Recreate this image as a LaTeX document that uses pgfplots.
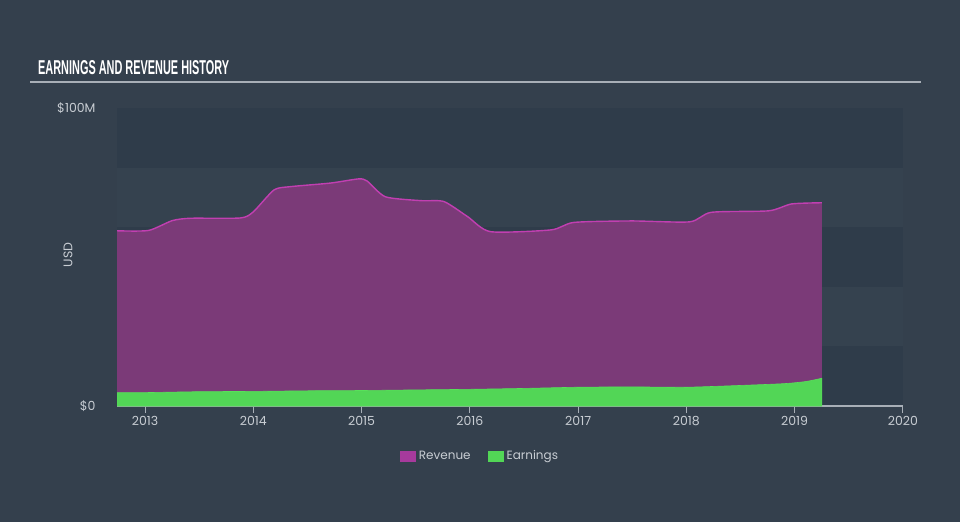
\documentclass[border=0pt]{standalone}
\usepackage{fontspec}
\setmainfont{Poppins}
\newfontfamily\titlefont{Liberation Sans}
\usepackage{graphicx}
\usepackage{pgfplots}
\pgfplotsset{compat=1.18}

\definecolor{bg}{HTML}{34404D}
\definecolor{band}{HTML}{2F3C4A}
\definecolor{lband}{HTML}{35424F}
\definecolor{revfill}{HTML}{7B3A78}
\definecolor{revline}{HTML}{C13FB1}
\definecolor{revleg}{HTML}{A63A9C}
\definecolor{earnfill}{HTML}{52D656}
\definecolor{earnline}{HTML}{58E05A}
\definecolor{txt}{HTML}{C8CDD3}
\definecolor{rulec}{HTML}{A8AFB7}

\newcommand\lbl{\fontsize{12.5}{14}\selectfont}
\newcommand\leg{\fontsize{12}{14}\selectfont}

\begin{document}
\begin{tikzpicture}[x=1pt,y=1pt]
  % canvas
  \fill[bg] (0,0) rectangle (960,522);
  \useasboundingbox (0,0) rectangle (960,522);
  % background bands, 20M each
  \foreach \i in {0,2,4} {\fill[band] (117,{116+\i*59.6}) rectangle (903,{116+(\i+1)*59.6});}
  \foreach \i in {1,3} {\fill[lband] (117,{116+\i*59.6}) rectangle (903,{116+(\i+1)*59.6});}
  % title and rule
  \node[anchor=base west, inner sep=0, text=white] at (38,447)
    {\resizebox{191pt}{14pt}{\titlefont\bfseries EARNINGS AND REVENUE HISTORY}};
  \draw[rulec, line width=1.8pt] (30,440) -- (921,440);
  \node[rotate=90, text=txt, font=\lbl] at (68,267) {USD};

  \begin{axis}[
      at={(117pt,116pt)}, anchor=south west,
      scale only axis, width=786pt, height=298pt,
      xmin=2012.74, xmax=2020, ymin=0, ymax=100,
      axis x line*=bottom, axis y line*=left,
      x axis line style={draw=rulec, line width=1.2pt},
      y axis line style={draw=none},
      xtick={2013,2014,...,2020},
      ytick={0,100}, yticklabels={\$0,\$100M},
      tick align=outside, major tick length=7pt,
      xtick style={draw=rulec, line width=1pt},
      ytick style={draw=none},
      /pgf/number format/1000 sep={},
      /pgf/number format/assume math mode=true,
      xticklabel style={font=\lbl, text=txt},
      yticklabel style={font=\lbl, text=txt, xshift=-11pt},
      legend style={at={(0.4618,-0.168)}, anchor=center, draw=none, fill=none,
        legend columns=2, text=txt, font=\leg,
        /tikz/every odd column/.append style={column sep=1pt},
        /tikz/every even column/.append style={column sep=15pt}},
      legend image code/.code={\fill[#1, draw=none] (0pt,-5.5pt) rectangle (16pt,5.5pt);},
    ]
    % Revenue (USD M)
    \addplot[forget plot, smooth, tension=0.4, fill=revfill, draw=none] coordinates {
      (2012.74,58.8) (2013.03,58.9) (2013.25,62.2) (2013.42,63.0) (2013.88,63.1)
      (2014.0,65.2) (2014.19,72.5) (2014.34,73.6) (2014.71,74.8) (2014.97,76.2)
      (2015.05,75.5) (2015.22,70.2) (2015.55,68.9) (2015.76,68.6) (2015.98,63.5)
      (2016.19,58.5) (2016.75,59.1) (2016.96,61.6) (2017.49,62.1) (2018.03,61.8)
      (2018.23,65.0) (2018.76,65.5) (2018.97,67.8) (2019.25,68.2)
    } \closedcycle;
    \addplot[forget plot, smooth, tension=0.4, draw=revline, line width=1.4pt] coordinates {
      (2012.74,58.8) (2013.03,58.9) (2013.25,62.2) (2013.42,63.0) (2013.88,63.1)
      (2014.0,65.2) (2014.19,72.5) (2014.34,73.6) (2014.71,74.8) (2014.97,76.2)
      (2015.05,75.5) (2015.22,70.2) (2015.55,68.9) (2015.76,68.6) (2015.98,63.5)
      (2016.19,58.5) (2016.75,59.1) (2016.96,61.6) (2017.49,62.1) (2018.03,61.8)
      (2018.23,65.0) (2018.76,65.5) (2018.97,67.8) (2019.25,68.2)
    };
    % Earnings (USD M)
    \addplot[forget plot, smooth, tension=0.4, fill=earnfill, draw=earnline, line width=0.6pt] coordinates {
      (2012.74,4.5) (2013.0,4.5) (2013.5,4.8) (2014.0,4.9) (2014.5,5.1) (2015.0,5.2)
      (2015.5,5.4) (2016.0,5.6) (2016.5,5.9) (2017.0,6.3) (2017.5,6.4) (2018.0,6.3)
      (2018.5,6.9) (2018.9,7.5) (2019.1,8.2) (2019.25,9.3)
    } \closedcycle;

    \addlegendimage{fill=revleg}
    \addlegendentry{Revenue}
    \addlegendimage{fill=earnfill}
    \addlegendentry{Earnings}
  \end{axis}
\end{tikzpicture}
\end{document}
